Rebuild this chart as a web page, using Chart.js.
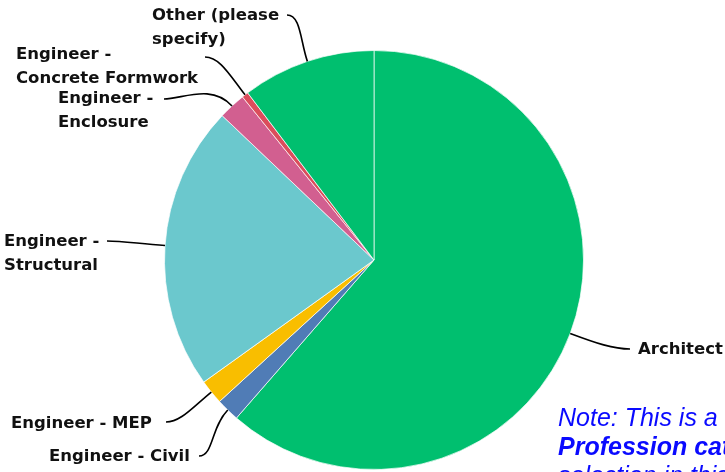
<!DOCTYPE html>
<html>
<head>
<meta charset="utf-8">
<script src="https://cdn.jsdelivr.net/npm/chart.js@4.4.0/dist/chart.umd.min.js"></script>
<style>
  html, body { margin: 0; padding: 0; background: #fff; overflow: hidden; }
  #wrap { width: 725px; height: 472px; position: relative; }
</style>
</head>
<body>
<div id="wrap"><canvas id="myChart"></canvas></div>
<script>
const ctx = document.getElementById('myChart');

// data (share of responses, %)
const categories = ['Architect', 'Engineer - Civil', 'Engineer - MEP', 'Engineer - Structural',
                    'Engineer - Enclosure', 'Engineer - Concrete Formwork', 'Other (please specify)'];
const shares = [61.4, 1.8, 1.9, 22.0, 2.1, 0.5, 10.3];
const colors = ['#00BF6F', '#507CB6', '#F9BE00', '#6BC8CD', '#D25F90', '#DB4D5C', '#00BF6F'];

// how each label is written, and where it sits
const labelLines = [
    ['Architect'],
    ['Engineer - Civil'],
    ['Engineer - MEP'],
    ['Engineer -', 'Structural'],
    ['Engineer -', 'Enclosure'],
    ['Engineer -', 'Concrete Formwork'],
    ['Other (please', 'specify)']
];
const labelPos = [
    { x: 638, y: 350, ex: 630, ey: 349 },
    { x: 49,  y: 457, ex: 199, ey: 456 },
    { x: 11,  y: 424, ex: 166, ey: 422 },
    { x: 4,   y: 242, ex: 107, ey: 241 },
    { x: 58,  y: 99,  ex: 164, ey: 99 },
    { x: 16,  y: 55,  ex: 205, ey: 57 },
    { x: 152, y: 16,  ex: 287, ey: 15 }
];

const noteLines = [
    { text: 'Note: This is a breakdown of the', bold: false },
    { text: 'Profession category', bold: true },
    { text: 'selection in this survey', bold: false }
];

const calloutPlugin = {
    id: 'callouts',
    afterDraw(chart) {
        const c = chart.ctx;
        const meta = chart.getDatasetMeta(0);
        c.save();
        meta.data.forEach((arc, i) => {
            const p = arc.getProps(['x', 'y', 'startAngle', 'endAngle', 'outerRadius'], true);
            const mid = (p.startAngle + p.endAngle) / 2;
            const sx = p.x + Math.cos(mid) * p.outerRadius;
            const sy = p.y + Math.sin(mid) * p.outerRadius;
            const lp = labelPos[i];
            const dir = lp.ex < sx ? 1 : -1;
            const dist = Math.hypot(lp.ex - sx, lp.ey - sy);
            const k = dist * 0.45;
            c.beginPath();
            c.moveTo(sx, sy);
            c.bezierCurveTo(sx + Math.cos(mid) * k, sy + Math.sin(mid) * k,
                            lp.ex + dir * k * 0.6, lp.ey, lp.ex, lp.ey);
            c.strokeStyle = '#000';
            c.lineWidth = 1.6;
            c.stroke();

            c.fillStyle = '#111';
            c.font = 'bold 16.5px "DejaVu Sans"';
            c.textAlign = 'left';
            c.textBaseline = 'middle';
            labelLines[i].forEach((t, j) => c.fillText(t, lp.x, lp.y + j * 24));
        });

        c.fillStyle = '#0a0aff';
        c.textBaseline = 'alphabetic';
        noteLines.forEach((n, j) => {
            c.font = (n.bold ? 'italic bold ' : 'italic ') + '25px "Liberation Sans", Arial';
            c.fillText(n.text, 558, 426 + j * 29);
        });
        c.restore();
    }
};

const showChart = () => {
    new Chart(ctx, {
        type: 'pie',
        data: {
            labels: categories,
            datasets: [{
                data: shares,
                backgroundColor: colors,
                borderColor: 'rgba(255,255,255,0.7)',
                borderWidth: 1
            }]
        },
        options: {
            responsive: true,
            maintainAspectRatio: false,
            animation: false,
            layout: { padding: { left: 164, right: 141, top: 50, bottom: 2 } },
            plugins: {
                legend: { display: false },
                tooltip: { enabled: false }
            }
        },
        plugins: [calloutPlugin]
    });
}

window.addEventListener('load', function(){
    showChart();
})
</script>
</body>
</html>
